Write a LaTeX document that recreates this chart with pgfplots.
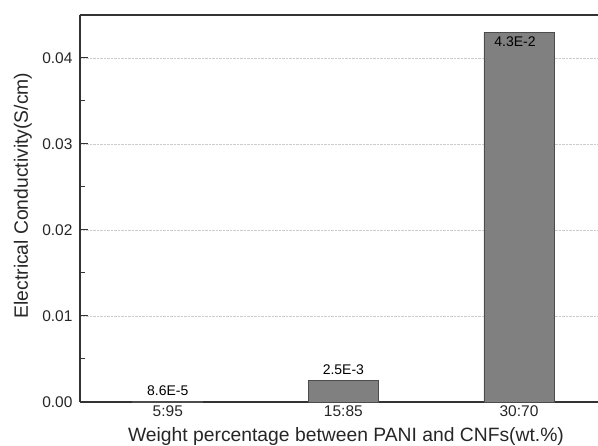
\documentclass[border=0pt]{standalone}
\usepackage{pgfplots}
\pgfplotsset{compat=1.18}
\usepackage{fontspec}
\setmainfont{Liberation Sans}
\begin{document}
\begin{tikzpicture}
\begin{axis}[
  name=ax,
  scale only axis,
  width=518pt, height=387pt,
  xmin=-0.5, xmax=2.45,
  ymin=0, ymax=0.045,
  axis x line*=bottom,
  axis y line*=left,
  axis line style={line width=1.2pt, color=black!80},
  xtick={0,1,2},
  xticklabels={5:95,15:85,30:70},
  x tick style={draw=none},
  ytick={0,0.01,0.02,0.03,0.04},
  minor ytick={0.005,0.015,0.025,0.035},
  yticklabels={0.00,0.01,0.02,0.03,0.04},
  tick align=inside,
  major tick length=8pt,
  minor tick length=5pt,
  y tick style={line width=1pt, color=black!80},
  ymajorgrids,
  grid style={densely dotted, color=gray!40, line width=0.6pt},
  tick label style={font=\fontsize{15.5}{17}\selectfont, color=black!85},
  yticklabel style={xshift=-4pt},
  xlabel={\fontsize{19.3}{21}\selectfont Weight percentage between PANI and CNFs(wt.\%)},
  ylabel={\fontsize{19.3}{21}\selectfont Electrical Conductivity(S/cm)},
  xlabel style={color=black!85, at={([xshift=7pt,yshift=-35pt]axis description cs:0.5,0)}, anchor=center},
  ylabel style={color=black!85, at={([xshift=-57pt,yshift=13pt]axis description cs:0,0.5)}, anchor=center},
  scaled y ticks=false,
  clip=false,
]
\addplot[ybar, bar width=70pt, fill=black!50, draw=black!70, line width=0.8pt]
  coordinates {(0,0.000086) (1,0.0025) (2,0.043)};
\node[font=\fontsize{14}{16}\selectfont, above, yshift=2pt] at (axis cs:0,0.000086) {8.6E-5};
\node[font=\fontsize{14}{16}\selectfont, above, yshift=2pt] at (axis cs:1,0.0025) {2.5E-3};
\node[font=\fontsize{14}{16}\selectfont, below, xshift=-4pt, yshift=-1pt] at (axis cs:2,0.043) {4.3E-2};
\draw[line width=1.2pt, color=black!80] (rel axis cs:0,1) -- (rel axis cs:1,1);
\end{axis}
\pgfresetboundingbox
\useasboundingbox ([xshift=-80pt,yshift=-44pt]ax.south west) rectangle ([yshift=15pt]ax.north east);
\end{tikzpicture}
\end{document}
